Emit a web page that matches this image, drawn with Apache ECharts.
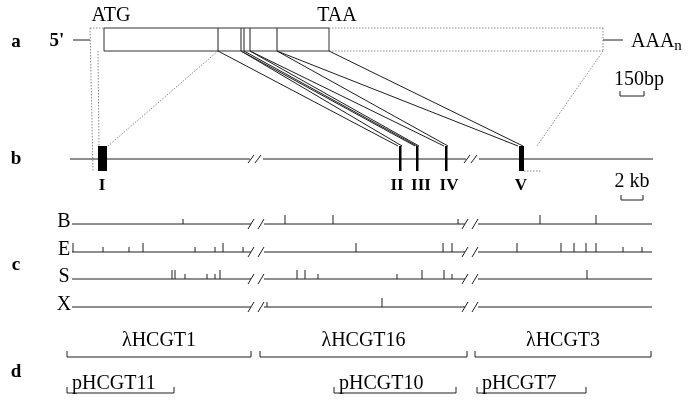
<!DOCTYPE html>
<html><head><meta charset="utf-8">
<script src="https://cdn.jsdelivr.net/npm/echarts@6/dist/echarts.min.js"></script>
<style>html,body{margin:0;padding:0;background:#fff}#c{width:688px;height:406px}</style>
</head><body><div id="c"></div>
<script>
// ================= DATA (map units along the horizontal scale) =================
// panel a : cDNA
const cdnaLeft = 90, atgPos = 104, taaPos = 329, polyAPos = 603;
const cdnaJunctions = [218, 241, 244, 250, 277];
// panel b : gene with five exons
const exonNames = ['I', 'II', 'III', 'IV', 'V'];
const exonStart = [98, 399, 416, 445, 519];
const exonEnd = [107, 401.5, 418.5, 447.5, 524];
const geneStart = 70, geneEnd = 653;
const breakPos = [256, 472];
// connectors: cDNA position -> exon edge
const connCdna = [218, 241, 241, 244, 250, 250, 277, 277, 329];
const connExon = [398, 402, 415, 417, 419, 444, 448, 518, 523];
// panel c : restriction sites (B, E, S, X)
const enzymes = ['B', 'E', 'S', 'X'];
const sitesB = [285, 333, 540, 596];
const sitesBsmall = [183, 458];
const sitesE = [73, 143, 223, 356, 443, 452, 517, 561, 574, 586, 596];
const sitesEsmall = [103, 129, 195, 215, 243, 623, 642];
const sitesS = [172, 175, 220, 297, 305, 422, 444, 587];
const sitesSsmall = [185, 207, 215, 318, 397, 452];
const sitesX = [382];
const sitesXsmall = [267];
const mapStart = 72, mapEnd = 652;
// panel d : clones
const lambdaNames = ['λHCGT1', 'λHCGT16', 'λHCGT3'];
const lambdaStart = [67, 260, 475];
const lambdaEnd = [251, 467, 651];
const plasmidNames = ['pHCGT11', 'pHCGT10', 'pHCGT7'];
const plasmidStart = [67, 334, 477];
const plasmidEnd = [174, 456, 586];
// scale bars
const bpBar = [620, 644];
const kbBar = [621, 643];

// ================= LAYOUT =================
const FONT = '"Liberation Serif", "Times New Roman", serif';
const yBoxTop = 28, yBoxBot = 51, yDash = 40;
const yGene = 159, yExonTop = 146, yExonBot = 171, yExonLab = 186;
const exonLabelX = [102, 397, 421, 449, 521];
const yRows = [224, 252, 279, 307];
const yLambda = 357, yPlasmid = 393;

const solid = [], dotted = [], thick = [], rects = [], texts = [];
function seg(arr, x1, y1, x2, y2) { arr.push([x1, y1, x2, y2]); }

// panel a
seg(solid, 73, yDash, cdnaLeft, yDash);
seg(dotted, cdnaLeft, yBoxTop, atgPos, yBoxTop);
rects.push([atgPos, yBoxTop, taaPos, yBoxBot, 0]);
cdnaJunctions.forEach(x => seg(solid, x, yBoxTop, x, yBoxBot));
seg(dotted, taaPos, yBoxTop, polyAPos, yBoxTop);
seg(dotted, taaPos, yBoxBot, polyAPos, yBoxBot);
seg(dotted, polyAPos, yBoxTop, polyAPos, yBoxBot);
seg(solid, polyAPos, yDash, 623, yDash);
// connectors
seg(dotted, cdnaLeft, yBoxTop, 93, yExonBot);
seg(dotted, 98, yBoxBot, 99, yExonTop);
seg(dotted, cdnaJunctions[0], yBoxBot, exonEnd[0] + 1, yExonTop);
connCdna.forEach((x, i) => seg(solid, x, yBoxBot, connExon[i], yExonTop));
seg(dotted, polyAPos, yBoxBot, 537, yExonTop);
seg(dotted, exonEnd[4], yExonBot, 542, yExonBot);

// panel b gene line with breaks
let pts = [geneStart];
breakPos.forEach(b => { pts.push(b - 6, b + 7); });
pts.push(geneEnd);
for (let i = 0; i < pts.length; i += 2) seg(solid, pts[i], yGene, pts[i + 1], yGene);
breakPos.forEach(b => { seg(solid, b - 8, yGene + 4, b - 2, yGene - 4); seg(solid, b - 1, yGene + 4, b + 5, yGene - 4); });
exonNames.forEach((n, i) => {
  const w = exonEnd[i] - exonStart[i];
  if (w > 3) rects.push([exonStart[i], yExonTop, exonEnd[i], yExonBot, 1]);
  else seg(thick, (exonStart[i] + exonEnd[i]) / 2, yExonTop, (exonStart[i] + exonEnd[i]) / 2, yExonBot);
  texts.push([exonLabelX[i], yExonLab, n, 'bold 17px ' + FONT, 'center']);
});

// panel c restriction rows
const majors = [sitesB, sitesE, sitesS, sitesX];
const minors = [sitesBsmall, sitesEsmall, sitesSsmall, sitesXsmall];
const rowBreaks = [257, 471];
enzymes.forEach((e, r) => {
  const y = yRows[r];
  let p = [mapStart];
  rowBreaks.forEach(b => p.push(b - 6, b + 7));
  p.push(mapEnd);
  for (let i = 0; i < p.length; i += 2) seg(solid, p[i], y, p[i + 1], y);
  rowBreaks.forEach(b => { seg(solid, b - 9, y + 5, b - 3, y - 5); seg(solid, b + 1, y + 5, b + 7, y - 5); });
  majors[r].forEach(x => seg(solid, x, y, x, y - 9));
  minors[r].forEach(x => seg(solid, x, y, x, y - 5));
  texts.push([64, y - 2, e, '20px ' + FONT, 'center']);
});

// panel d clones
lambdaNames.forEach((n, i) => {
  seg(solid, lambdaStart[i], yLambda, lambdaEnd[i], yLambda);
  seg(solid, lambdaStart[i], yLambda, lambdaStart[i], yLambda - 6);
  seg(solid, lambdaEnd[i], yLambda, lambdaEnd[i], yLambda - 6);
  texts.push([(lambdaStart[i] + lambdaEnd[i]) / 2, 341, n, '20px ' + FONT, 'center']);
});
plasmidNames.forEach((n, i) => {
  seg(solid, plasmidStart[i], yPlasmid, plasmidEnd[i], yPlasmid);
  seg(solid, plasmidStart[i], yPlasmid, plasmidStart[i], yPlasmid - 6);
  seg(solid, plasmidEnd[i], yPlasmid, plasmidEnd[i], yPlasmid - 6);
  texts.push([plasmidStart[i] + 5, 384, n, '20px ' + FONT, 'left']);
});

// scale bars
[[bpBar, 96], [kbBar, 200]].forEach(([b, y]) => {
  seg(solid, b[0], y, b[1], y);
  seg(solid, b[0], y, b[0], y - 5);
  seg(solid, b[1], y, b[1], y - 5);
});

// texts
texts.push([16, 42, 'a', 'bold 19px ' + FONT, 'center']);
texts.push([16, 159, 'b', 'bold 19px ' + FONT, 'center']);
texts.push([16, 265, 'c', 'bold 19px ' + FONT, 'center']);
texts.push([16, 372, 'd', 'bold 19px ' + FONT, 'center']);
texts.push([57, 41, "5'", 'bold 19px ' + FONT, 'center']);
texts.push([111, 16, 'ATG', '20px ' + FONT, 'center']);
texts.push([337, 16, 'TAA', '20px ' + FONT, 'center']);
texts.push([631, 42, 'AAA{n|n}', '20px ' + FONT, 'left']);
texts.push([639, 80, '150bp', '20px ' + FONT, 'center']);
texts.push([632, 182, '2 kb', '20px ' + FONT, 'center']);

// ================= CHART =================
function segSeries(items, style) {
  return {
    type: 'custom', coordinateSystem: 'cartesian2d', silent: true, clip: false, data: items,
    renderItem: function (params, api) {
      const a = api.coord([api.value(0), api.value(1)]);
      const b = api.coord([api.value(2), api.value(3)]);
      return { type: 'line', shape: { x1: a[0], y1: a[1], x2: b[0], y2: b[1] }, style: Object.assign({ fill: null }, style) };
    }
  };
}
const chart = echarts.init(document.getElementById('c'));
chart.setOption({
  animation: false,
  backgroundColor: '#fff',
  grid: { left: 0, right: 0, top: 0, bottom: 0 },
  xAxis: { type: 'value', min: 0, max: 688, show: false },
  yAxis: { type: 'value', min: 0, max: 406, inverse: true, show: false },
  series: [
    segSeries(dotted, { stroke: '#8a8a8a', lineWidth: 1, lineDash: [1.5, 1.5] }),
    segSeries(solid, { stroke: '#1e1e1e', lineWidth: 1 }),
    segSeries(thick, { stroke: '#000', lineWidth: 2.5 }),
    {
      type: 'custom', coordinateSystem: 'cartesian2d', silent: true, clip: false, data: rects,
      renderItem: function (params, api) {
        const a = api.coord([api.value(0), api.value(1)]);
        const b = api.coord([api.value(2), api.value(3)]);
        const filled = api.value(4) === 1;
        return { type: 'rect', shape: { x: a[0], y: a[1], width: b[0] - a[0], height: b[1] - a[1] },
          style: filled ? { fill: '#000' } : { fill: null, stroke: '#333', lineWidth: 1 } };
      }
    },
    {
      type: 'custom', coordinateSystem: 'cartesian2d', silent: true, clip: false,
      data: texts.map(t => [t[0], t[1]]),
      renderItem: function (params, api) {
        const t = texts[params.dataIndex];
        const p = api.coord([api.value(0), api.value(1)]);
        return { type: 'text', x: p[0], y: p[1], style: {
          text: t[2], font: t[3], fill: '#000', align: t[4], verticalAlign: 'middle',
          rich: { n: { font: '15px ' + FONT, fill: '#000', padding: [9, 0, 0, 0] } } } };
      }
    }
  ]
});
</script></body></html>
